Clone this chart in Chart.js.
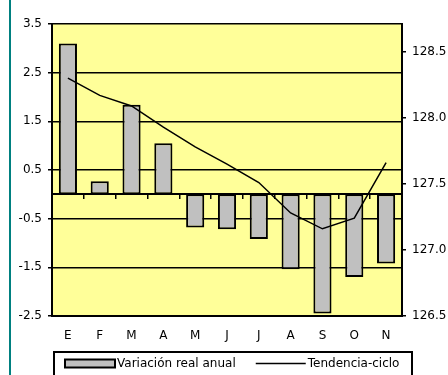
<!DOCTYPE html>
<html>
<head>
<meta charset="utf-8">
<script src="https://cdn.jsdelivr.net/npm/chart.js@4"></script>
<style>
  html, body { margin: 0; padding: 0; background: #fff; }
  #wrap { width: 448px; height: 375px; position: relative; }
</style>
</head>
<body>
<div id="wrap"><canvas id="chart" width="448" height="375"></canvas></div>
<script>
// Meses (enero a noviembre)
const months = ['E', 'F', 'M', 'A', 'M', 'J', 'J', 'A', 'S', 'O', 'N'];
// Variación real anual (%), eje izquierdo
const variacionReal = [3.1, 0.27, 1.84, 1.05, -0.68, -0.72, -0.92, -1.54, -2.45, -1.7, -1.42];
// Tendencia-ciclo (índice), eje derecho
const tendenciaCiclo = [128.3, 128.17, 128.09, 127.93, 127.78, 127.65, 127.51, 127.28, 127.16, 127.24, 127.66];
// Marcas de los ejes
const leftTicks = [-2.5, -1.5, -0.5, 0.5, 1.5, 2.5, 3.5];
const rightTicks = [126.5, 127.0, 127.5, 128.0, 128.5];
const rightMin = 126.5;
const rightMax = 128.71;

const FONT = { family: "'DejaVu Sans', sans-serif", size: 12 };
const INK = '#000';

// Fondo amarillo del área de trazado
const plotBackground = {
  id: 'plotBackground',
  beforeDraw(chart) {
    const { ctx, chartArea: a } = chart;
    ctx.save();
    ctx.fillStyle = '#ffff99';
    ctx.fillRect(a.left, a.top, a.right - a.left, a.bottom - a.top);
    ctx.restore();
  }
};

// Filete vertical del margen izquierdo
const sideRule = {
  id: 'sideRule',
  beforeDraw(chart) {
    const { ctx } = chart;
    ctx.save();
    ctx.fillStyle = '#008080';
    ctx.fillRect(9, 0, 2, chart.height);
    ctx.restore();
  }
};

// Leyenda enmarcada bajo el gráfico
const boxedLegend = {
  id: 'boxedLegend',
  afterDraw(chart) {
    const { ctx } = chart;
    const cy = 363.5;
    ctx.save();
    ctx.strokeStyle = INK;
    ctx.lineWidth = 2;
    ctx.strokeRect(54, 352, 358, 40);
    ctx.font = `${FONT.size}px ${FONT.family}`;
    ctx.textBaseline = 'middle';
    ctx.textAlign = 'left';
    let x = 65;
    chart.data.datasets.forEach(ds => {
      if (ds.type === 'bar') {
        ctx.fillStyle = ds.backgroundColor;
        ctx.fillRect(x, cy - 4, 50, 8);
        ctx.lineWidth = ds.borderWidth;
        ctx.strokeStyle = ds.borderColor;
        ctx.strokeRect(x, cy - 4, 50, 8);
      } else {
        ctx.beginPath();
        ctx.lineWidth = ds.borderWidth;
        ctx.strokeStyle = ds.borderColor;
        ctx.moveTo(x, cy);
        ctx.lineTo(x + 50, cy);
        ctx.stroke();
      }
      ctx.fillStyle = INK;
      ctx.fillText(ds.label, x + 52, cy);
      x += 52 + ctx.measureText(ds.label).width + 20;
    });
    ctx.restore();
  }
};

new Chart(document.getElementById('chart'), {
  type: 'bar',
  data: {
    labels: months,
    datasets: [
      {
        type: 'bar',
        label: 'Variación real anual',
        data: variacionReal,
        backgroundColor: '#c0c0c0',
        borderColor: INK,
        borderWidth: 2,
        borderSkipped: false,
        barPercentage: 0.57,
        categoryPercentage: 1,
        xAxisID: 'x',
        yAxisID: 'y',
        order: 2
      },
      {
        type: 'line',
        label: 'Tendencia-ciclo',
        data: tendenciaCiclo,
        borderColor: INK,
        borderWidth: 1.5,
        pointRadius: 0,
        tension: 0,
        fill: false,
        xAxisID: 'x',
        yAxisID: 'y2',
        order: 1
      }
    ]
  },
  options: {
    responsive: false,
    animation: false,
    devicePixelRatio: 1,
    layout: { padding: { top: 24, left: 0, right: 0, bottom: 29 } },
    plugins: { legend: { display: false }, tooltip: { enabled: false } },
    scales: {
      x: {
        type: 'category',
        position: 'bottom',
        offset: true,
        grid: { display: false, drawTicks: false, offset: true },
        border: { display: true, color: INK, width: 2 },
        ticks: { padding: 13, font: FONT, color: INK, maxRotation: 0, autoSkip: false },
        afterFit(s) { s.height = 30; }
      },
      // Eje de categorías cruzando en cero, con marcas entre meses
      xZero: {
        type: 'category',
        position: { y: 0 },
        offset: true,
        grid: { display: true, offset: true, drawOnChartArea: false, drawTicks: true, tickLength: 4, color: INK, lineWidth: 1.5 },
        border: { display: true, color: INK, width: 2 },
        ticks: { display: false }
      },
      y: {
        position: 'left',
        min: -2.5,
        max: 3.5,
        afterBuildTicks(s) { s.ticks = leftTicks.map(v => ({ value: v })); },
        grid: { color: INK, lineWidth: 1.5, tickLength: 4 },
        border: { display: true, color: INK, width: 2 },
        ticks: { padding: 6, font: FONT, color: INK, callback: v => v.toFixed(1) },
        afterFit(s) { s.width = 52; }
      },
      y2: {
        position: 'right',
        min: rightMin,
        max: rightMax,
        afterBuildTicks(s) { s.ticks = rightTicks.map(v => ({ value: v })); },
        grid: { drawOnChartArea: false, color: INK, lineWidth: 1.5, tickLength: 4 },
        border: { display: true, color: INK, width: 2 },
        ticks: { padding: 6, font: FONT, color: INK, callback: v => v.toFixed(1) },
        afterFit(s) { s.width = 46; }
      }
    }
  },
  plugins: [sideRule, plotBackground, boxedLegend]
});
</script>
</body>
</html>
